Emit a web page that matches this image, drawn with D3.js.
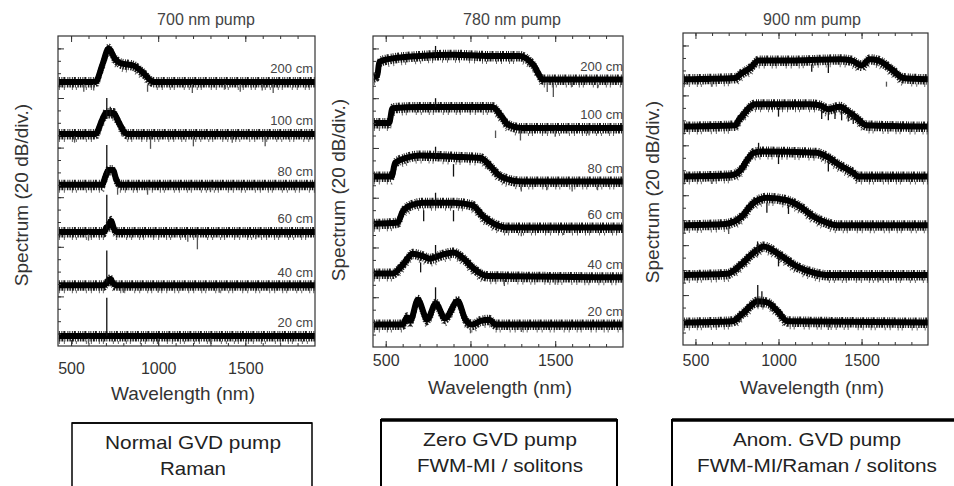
<!DOCTYPE html>
<html><head><meta charset="utf-8">
<script src="https://cdn.jsdelivr.net/npm/d3@7"></script>
<style>body{margin:0;background:#fff} text{font-family:"Liberation Sans",Arial,sans-serif}</style>
</head><body><svg id="c" width="954" height="486"></svg>
<script>
// ---------- DATA ----------
const xTicks = [500, 1000, 1500];
const xMinorTicks = [500,600,700,800,900,1000,1100,1200,1300,1400,1500,1600,1700,1800];
const traceLabels = ["200 cm","100 cm","80 cm","60 cm","40 cm","20 cm"];
const panelTitles = ["700 nm pump","780 nm pump","900 nm pump"];
const boxLines = [["Normal GVD pump","Raman"],["Zero GVD pump","FWM-MI / solitons"],["Anom. GVD pump","FWM-MI/Raman / solitons"]];
const yTitle = "Spectrum (20 dB/div.)";
const xTitle = "Wavelength (nm)";

// vertical offset (dB) of each trace's noise floor: 200,100,80,60,40,20 cm
const floors700 = [213,171,130,92,49,8];
const floors780 = [215,176,133,96,56,18];
const floors900 = [213,175,135,96,56,18];

// spectral envelopes [wavelength nm, dB above floor]
const spec700 = [
  [[430,0],[640,0],[680,14],[716,27],[750,19],[785,15],[860,13],[916,7],[973,0],[1900,0]],
  [[430,0],[640,0],[680,12],[700,17],[720,17],[745,17],[765,12],[790,5],[820,0],[1900,0]],
  [[430,0],[680,0],[695,6],[715,12],[740,12],[760,4],[780,0],[1900,0]],
  [[430,0],[690,0],[700,3],[715,5],[730,9],[745,3],[760,0],[1900,0]],
  [[430,0],[690,0],[705,2],[725,5],[740,2],[755,0],[1900,0]],
  [[430,0],[1900,0]]
];
const spec780 = [
  [[430,2],[450,3],[462,14],[500,16],[700,19],[900,20],[1100,19],[1290,19],[1370,12],[1430,0],[1900,0]],
  [[430,4],[520,4],[540,16],[700,17],[900,17],[1130,17],[1180,10],[1220,3],[1300,0],[1900,0]],
  [[430,4],[535,4],[555,15],[620,19],[700,21],[900,20],[1060,19],[1120,12],[1180,4],[1300,0],[1900,0]],
  [[430,3],[570,4],[600,13],[650,18],[720,20],[900,20],[1010,18],[1075,9],[1140,3],[1220,0],[1900,0]],
  [[430,3],[540,3],[600,10],[660,19],[720,17],[760,15],[830,18],[900,20],[960,15],[1020,7],[1100,1],[1900,0]],
  [[430,0],[600,0],[625,6],[645,3],[690,20],[745,4],[795,17],[850,5],[925,19],[970,4],[1010,0],[1060,3],[1110,4],[1150,0],[1900,0]]
];
const spec900 = [
  [[430,0],[740,1],[770,4],[830,9],[880,15],[1100,15],[1370,16],[1440,15],[1500,11],[1550,16],[1600,15],[1690,7],[1750,1],[1900,0]],
  [[430,0],[740,1],[760,5],[790,10],[830,16],[860,18],[1190,18],[1250,17],[1300,14],[1370,16],[1420,12],[1470,7],[1530,1],[1900,0]],
  [[430,0],[710,1],[770,5],[810,13],[850,19],[900,20],[1230,19],[1290,16],[1370,9],[1450,3],[1480,0],[1900,0]],
  [[430,0],[680,1],[770,6],[850,18],[930,22],[1050,20],[1130,15],[1210,7],[1290,2],[1350,0],[1900,0]],
  [[430,0],[690,1],[770,8],[850,18],[910,23],[1010,16],[1110,7],[1210,2],[1300,0],[1900,0]],
  [[430,0],[720,1],[790,8],[875,17],[935,16],[995,9],[1055,1],[1900,0]]
];

// narrow spikes / dips [trace, nm, from dB, to dB] relative to the trace floor
const spikes700 = [
  [1,705,12,29],[1,725,14,22],[2,705,8,32],[3,705,2,30],[4,705,2,28],[5,705,0,31],
  [0,573,-2,-8],[0,630,-2,-7],[0,939,-2,-8],[0,1196,-2,-9],[0,1385,-2,-6],[0,1471,-2,-8],[0,1597,-2,-7],[0,1660,-2,-9],
  [1,956,-2,-12],[1,1202,-2,-10],[1,1425,-2,-7],[1,1614,-2,-10],[1,520,-2,-7],
  [2,767,-2,-8],[2,939,-2,-8],[2,1300,-2,-6],
  [3,1225,-2,-14],[3,1170,-2,-8],[3,1560,-2,-6],[3,600,-2,-7],
  [4,1000,-2,-6],[4,1350,-2,-6],[4,800,-2,-6],
  [5,600,-2,-6],[5,1000,-2,-6],[5,1300,-2,-6]
];
const spikes780 = [
  [0,794,19,27],[1,794,17,24],[2,794,20,28],[3,794,20,28],[4,794,16,26],[5,794,17,30],
  [0,1489,-2,-14],[0,1453,-2,-10],[0,1600,-2,-6],[0,1750,-2,-7],
  [1,1295,-2,-10],[1,1148,-2,-8],[1,1500,-2,-7],[1,1700,-2,-6],
  [2,1300,-2,-8],[2,1450,-2,-7],[2,1600,-2,-8],[2,1750,-2,-7],[2,900,14,4],
  [3,724,14,5],[3,1300,-2,-7],[3,1550,-2,-6],[3,900,14,5],
  [4,706,12,4],[4,1200,-2,-7],[4,1500,-2,-6],
  [5,1000,-2,-7],[5,1300,-2,-6]
];
const spikes900 = [
  [2,880,19,27],[4,874,15,27],[5,875,12,30],[5,900,12,25],
  [0,1200,12,6],[0,1300,12,5],[0,1650,-2,-6],[0,600,-2,-6],
  [1,1260,14,6],[1,1300,12,5],[1,1340,14,6],[1,1380,13,5],[1,1420,10,4],[1,1450,8,2],[1,1000,15,8],
  [2,1000,17,10],[2,1300,12,4],[2,600,-2,-6],
  [3,930,18,10],[3,1060,16,9],[3,700,-2,-7],
  [4,1000,14,7],[4,1600,-2,-6],
  [5,1300,-2,-6]
];

// ---------- LAYOUT ----------
const xDomain = [425, 1900];
const yDomain = [0, 250];
const panels = [
  {left:58, right:315, top:36, bottom:346, titleX:206, tickY:374, xlabX:183, xlabY:400, ylabX:28, ylabY:195, labels:true, labelR:313,
   floors:floors700, spec:spec700, spikes:spikes700},
  {left:373, right:623, top:36, bottom:347, titleX:512, tickY:366, xlabX:500, xlabY:394, ylabX:345, ylabY:190, labels:true, labelR:623,
   floors:floors780, spec:spec780, spikes:spikes780},
  {left:683, right:928, top:33, bottom:345, titleX:812, tickY:366, xlabX:812, xlabY:394, ylabX:659, ylabY:192, labels:false, labelR:926,
   floors:floors900, spec:spec900, spikes:spikes900}
];
const boxes = [
  {x0:72, x1:312, top:423, w:1.5, tw:1.5, cx:193, w1:176, w2:66},
  {x0:381, x1:617, top:420, w:2, tw:3.5, cx:500, w1:154, w2:166},
  {x0:672, x1:964, top:420, w:2, tw:3.5, cx:817, w1:168, w2:240}
];

const svg = d3.select("#c");

panels.forEach((p, pi) => {
  const x = d3.scaleLinear().domain(xDomain).range([p.left, p.right]);
  const y = d3.scaleLinear().domain(yDomain).range([p.bottom, p.top]);
  const g = svg.append("g");

  const clipId = "clip" + pi;
  svg.append("clipPath").attr("id", clipId).append("rect")
    .attr("x", p.left).attr("y", p.top).attr("width", p.right - p.left).attr("height", p.bottom - p.top);
  const tg = g.append("g").attr("clip-path", `url(#${clipId})`);

  const line = d3.line().x(d => x(d[0])).y(d => y(d[1])).curve(d3.curveMonotoneX);

  p.spec.forEach((pts, i) => {
    const data = pts.map(d => [d[0], d[1] + p.floors[i]]);
    const dstr = line(data);
    tg.append("path").attr("d", dstr).attr("fill", "none").attr("stroke", "#666")
      .attr("stroke-width", 3).attr("stroke-dasharray", "1 4 1 7 1 3 1 9")
      .attr("transform", "translate(0,6.5)");
    tg.append("path").attr("d", dstr).attr("fill", "none").attr("stroke", "#1a1a1a")
      .attr("stroke-width", 4).attr("stroke-dasharray", "1.5 1 2 1 1 1.5 1.5 1")
      .attr("transform", "translate(0,3.5)");
    tg.append("path").attr("d", dstr).attr("fill", "none").attr("stroke", "#222")
      .attr("stroke-width", 3).attr("stroke-dasharray", "1 1.5 1 1 2 2 1 1")
      .attr("transform", "translate(0,-3.5)");
    tg.append("path").attr("d", dstr).attr("fill", "none").attr("stroke", "#000")
      .attr("stroke-width", 6).attr("stroke-linejoin", "round");
  });

  tg.selectAll("line.sp").data(p.spikes).enter().append("line")
    .attr("x1", d => x(d[1])).attr("x2", d => x(d[1]))
    .attr("y1", d => y(p.floors[d[0]] + d[2])).attr("y2", d => y(p.floors[d[0]] + d[3]))
    .attr("stroke", d => d[3] < 0 ? "#555" : "#111").attr("stroke-width", 1.3);

  // frame
  g.append("rect").attr("x", p.left).attr("y", p.top).attr("width", p.right - p.left).attr("height", p.bottom - p.top)
    .attr("fill", "none").attr("stroke", "#333").attr("stroke-width", 1.2);

  // inward ticks: top / bottom
  const topMinor = d3.axisBottom(x).tickValues(xMinorTicks).tickSize(3).tickFormat("");
  const topMajor = d3.axisBottom(x).tickValues(xTicks).tickSize(6).tickFormat("");
  const botMinor = d3.axisTop(x).tickValues(xMinorTicks).tickSize(3).tickFormat("");
  const botMajor = d3.axisTop(x).tickValues(xTicks).tickSize(6).tickFormat("");
  [[topMinor,p.top],[topMajor,p.top],[botMinor,p.bottom],[botMajor,p.bottom]].forEach(([ax, yy]) => {
    const a = g.append("g").attr("transform", `translate(0,${yy})`).call(ax);
    a.select(".domain").remove();
    a.selectAll("line").attr("stroke", "#333");
  });
  // left ticks
  const leftMinor = d3.axisRight(y).tickValues(d3.range(10, 250, 10)).tickSize(3).tickFormat("");
  const leftMajor = d3.axisRight(y).tickValues(d3.range(40, 250, 40)).tickSize(6).tickFormat("");
  [leftMinor, leftMajor].forEach(ax => {
    const a = g.append("g").attr("transform", `translate(${p.left},0)`).call(ax);
    a.select(".domain").remove();
    a.selectAll("line").attr("stroke", "#333");
  });

  // tick labels
  const lab = d3.axisBottom(x).tickValues(xTicks).tickSize(0).tickPadding(p.tickY - p.bottom - 11.4).tickFormat(d3.format("d"));
  const la = g.append("g").attr("transform", `translate(0,${p.bottom})`).call(lab);
  la.select(".domain").remove();
  la.selectAll("text").attr("font-size", 16).attr("font-family", "Liberation Sans, Arial, sans-serif").attr("fill", "#333");

  // titles
  g.append("text").attr("x", p.titleX).attr("y", 25).attr("text-anchor", "middle")
    .attr("font-size", 16).attr("fill", "#444").text(panelTitles[pi]);
  g.append("text").attr("x", p.xlabX).attr("y", p.xlabY).attr("text-anchor", "middle")
    .attr("font-size", 19).attr("fill", "#333").text(xTitle);
  g.append("text").attr("transform", `translate(${p.ylabX},${p.ylabY}) rotate(-90)`).attr("text-anchor", "middle")
    .attr("font-size", 19).attr("fill", "#333").text(yTitle);

  if (p.labels) {
    g.selectAll("text.tl").data(traceLabels).enter().append("text")
      .attr("x", p.labelR).attr("y", (d, i) => y(p.floors[i] + 7)).attr("text-anchor", "end")
      .attr("font-size", 13).attr("fill", "#444").text(d => d);
  }
});

// boxes
boxes.forEach((b, i) => {
  svg.append("path").attr("d", `M${b.x0},500V${b.top}H${b.x1}V500`).attr("fill", "none")
    .attr("stroke", "#000").attr("stroke-width", b.w);
  svg.append("line").attr("x1", b.x0).attr("x2", b.x1).attr("y1", b.top).attr("y2", b.top)
    .attr("stroke", "#000").attr("stroke-width", b.tw);
  svg.append("text").attr("x", b.cx).attr("y", b.top + 26).attr("text-anchor", "middle")
    .attr("font-size", 19).attr("fill", "#222").attr("textLength", b.w1).attr("lengthAdjust", "spacingAndGlyphs")
    .text(boxLines[i][0]);
  svg.append("text").attr("x", b.cx).attr("y", b.top + 52).attr("text-anchor", "middle")
    .attr("font-size", 19).attr("fill", "#222").attr("textLength", b.w2).attr("lengthAdjust", "spacingAndGlyphs")
    .text(boxLines[i][1]);
});
</script></body></html>
